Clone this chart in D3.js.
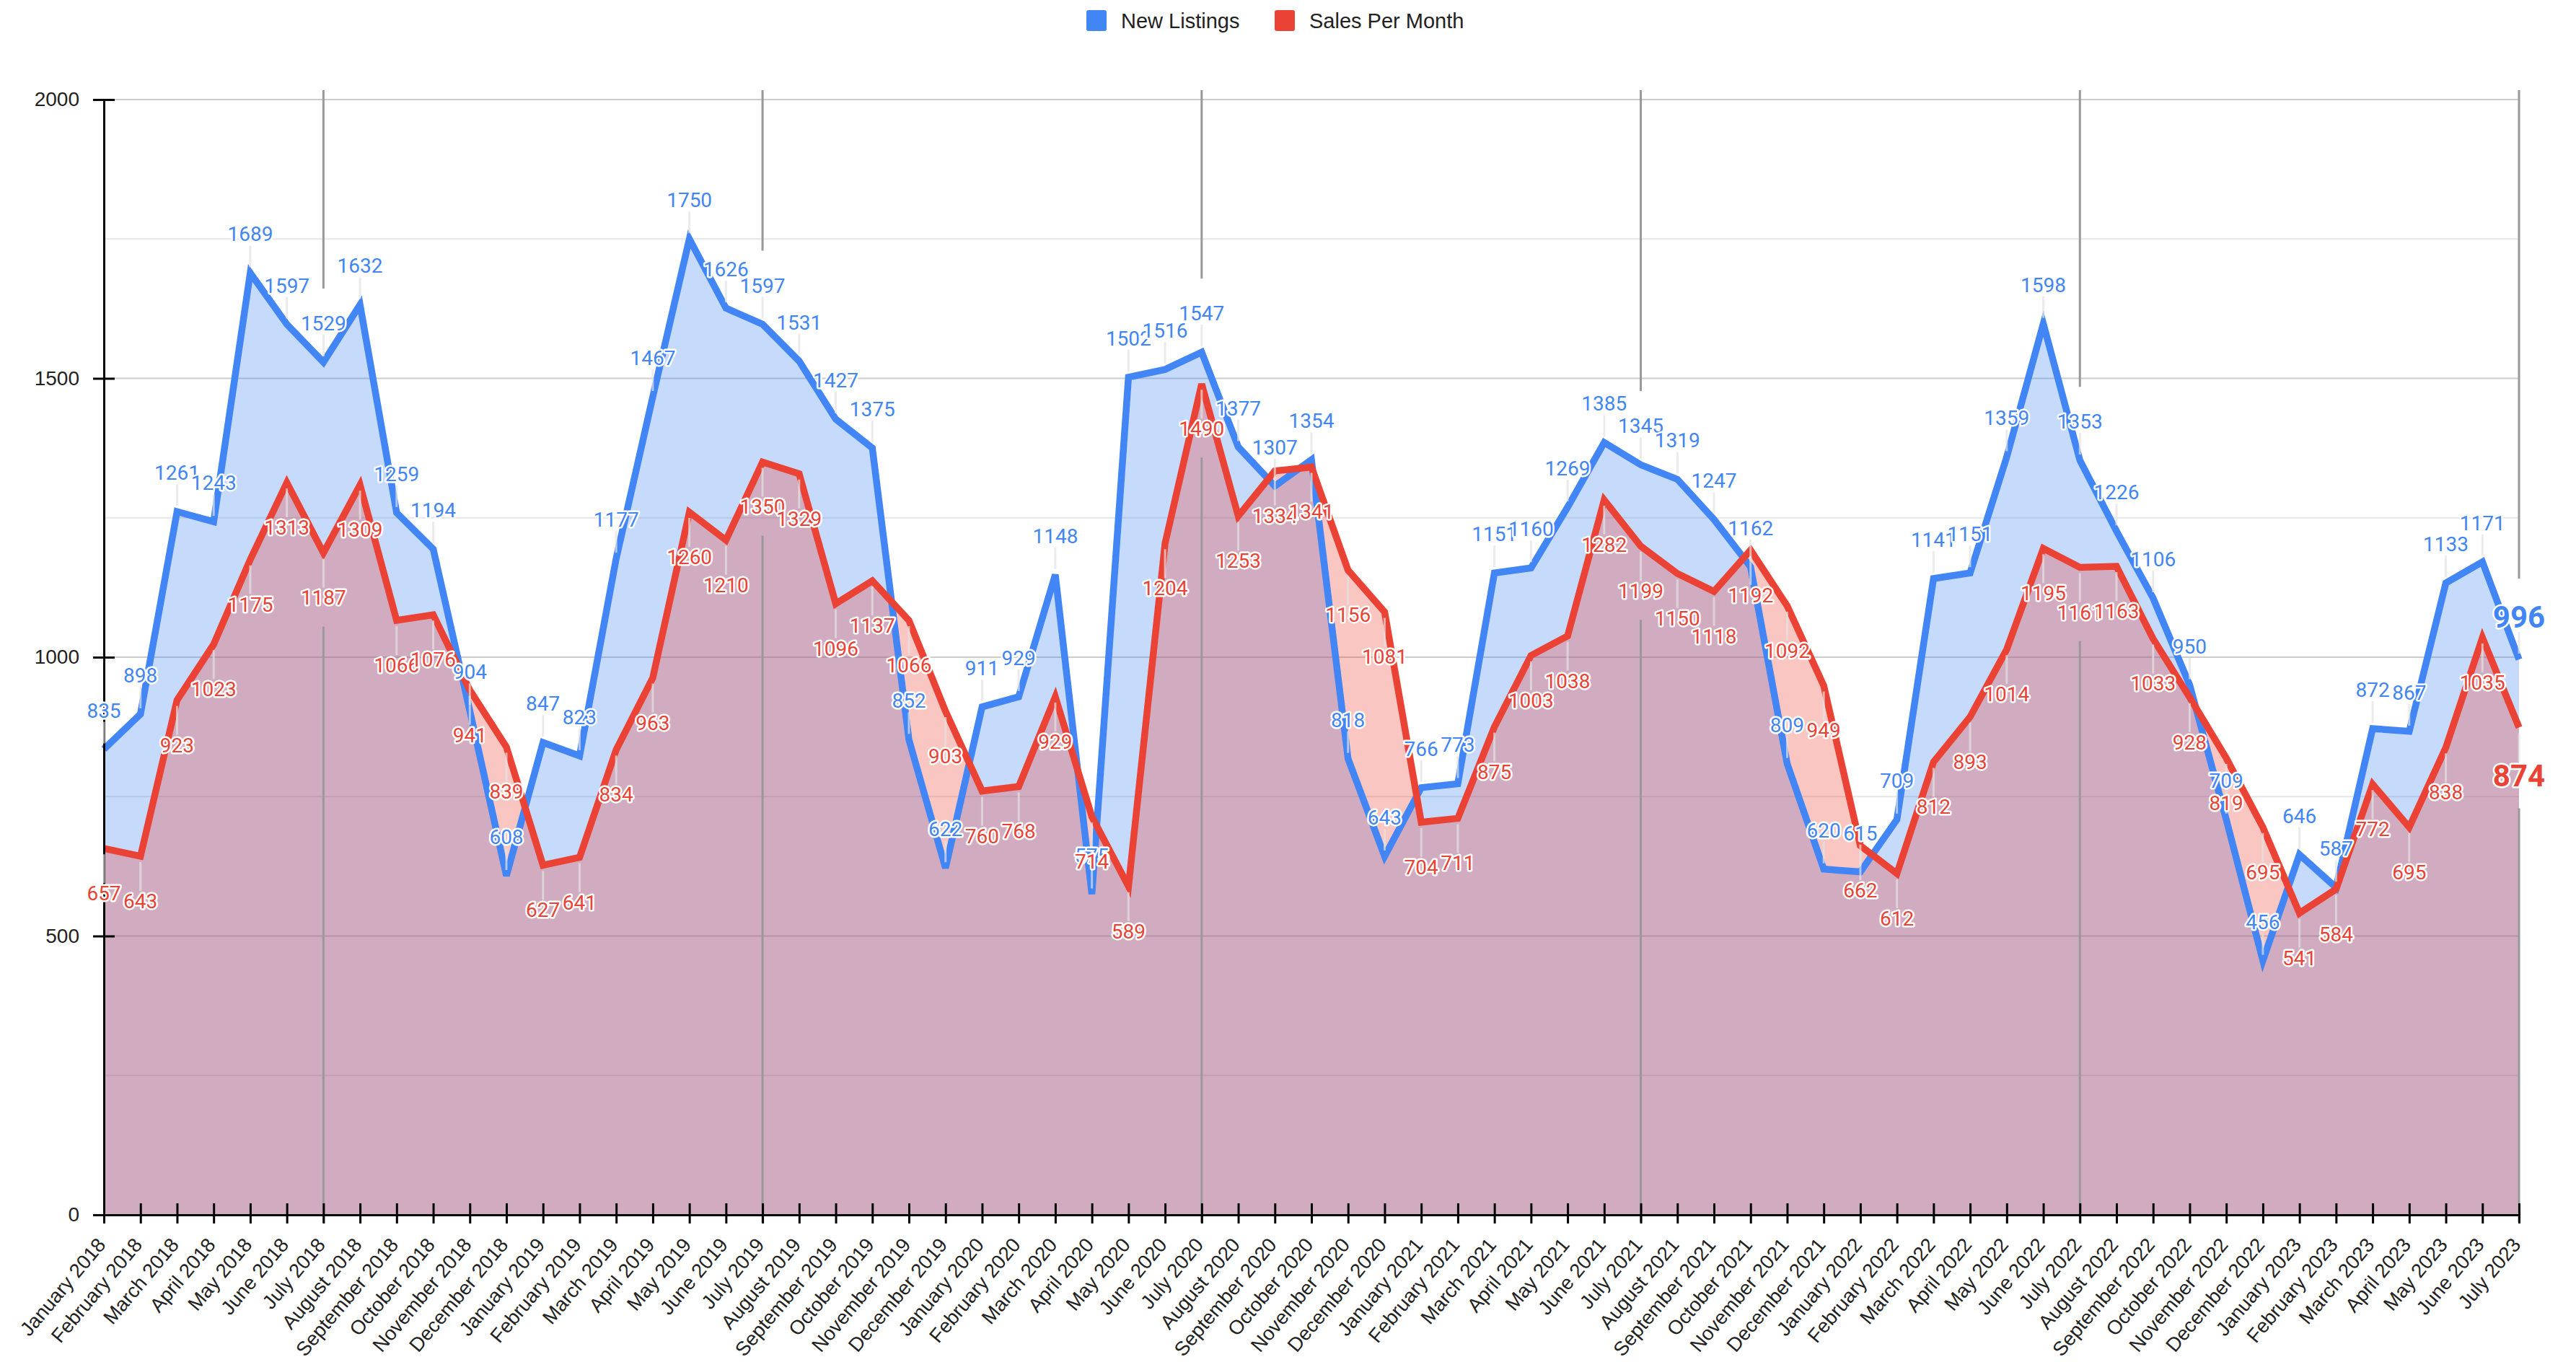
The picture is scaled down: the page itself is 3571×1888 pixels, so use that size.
<!DOCTYPE html>
<html>
<head>
<meta charset="utf-8">
<script src="https://cdnjs.cloudflare.com/ajax/libs/d3/7.8.5/d3.min.js"></script>
<style>
  body { margin: 0; background: #fff; }
  svg text { font-family: "Liberation Sans", Arial, sans-serif; }
  .lbl { font-family: Roboto, "Liberation Sans", sans-serif; }
</style>
</head>
<body>
<div id="chart"></div>
<script>
var months = [
  "January 2018", "February 2018", "March 2018", "April 2018", "May 2018", "June 2018",
  "July 2018", "August 2018", "September 2018", "October 2018", "November 2018", "December 2018",
  "January 2019", "February 2019", "March 2019", "April 2019", "May 2019", "June 2019",
  "July 2019", "August 2019", "September 2019", "October 2019", "November 2019", "December 2019",
  "January 2020", "February 2020", "March 2020", "April 2020", "May 2020", "June 2020",
  "July 2020", "August 2020", "September 2020", "October 2020", "November 2020", "December 2020",
  "January 2021", "February 2021", "March 2021", "April 2021", "May 2021", "June 2021",
  "July 2021", "August 2021", "September 2021", "October 2021", "November 2021", "December 2021",
  "January 2022", "February 2022", "March 2022", "April 2022", "May 2022", "June 2022",
  "July 2022", "August 2022", "September 2022", "October 2022", "November 2022", "December 2022",
  "January 2023", "February 2023", "March 2023", "April 2023", "May 2023", "June 2023",
  "July 2023"
];

var newListings = [
  835, 898, 1261, 1243, 1689, 1597, 1529, 1632, 1259, 1194, 904, 608,
  847, 823, 1177, 1467, 1750, 1626, 1597, 1531, 1427, 1375, 852, 622,
  911, 929, 1148, 575, 1502, 1516, 1547, 1377, 1307, 1354, 818, 643,
  766, 773, 1151, 1160, 1269, 1385, 1345, 1319, 1247, 1162, 809, 620,
  615, 709, 1141, 1151, 1359, 1598, 1353, 1226, 1106, 950, 709, 456,
  646, 587, 872, 867, 1133, 1171, 996
];

var salesPerMonth = [
  657, 643, 923, 1023, 1175, 1313, 1187, 1309, 1066, 1076, 941, 839,
  627, 641, 834, 963, 1260, 1210, 1350, 1329, 1096, 1137, 1066, 903,
  760, 768, 929, 714, 589, 1204, 1490, 1253, 1334, 1341, 1156, 1081,
  704, 711, 875, 1003, 1038, 1282, 1199, 1150, 1118, 1192, 1092, 949,
  662, 612, 812, 893, 1014, 1195, 1161, 1163, 1033, 928, 819, 695,
  541, 584, 772, 695, 838, 1035, 874
];

var yTicks = [0, 500, 1000, 1500, 2000];
var gridValues = [250, 500, 750, 1000, 1250, 1500, 1750, 2000];

var seriesNames = ["New Listings", "Sales Per Month"];
var seriesColors = ["#4285F4", "#EA4335"];

var width = 3571,
  height = 1888;

var svg = d3
  .select("#chart")
  .append("svg")
  .attr("width", width)
  .attr("height", height);

var x = d3.scalePoint().domain(months).range([144, 3492]);
var y = d3.scaleLinear().domain([0, 2000]).range([1684, 138]);

// gridlines (major every 500, minor in between)
svg
  .append("g")
  .selectAll("line")
  .data(gridValues)
  .enter()
  .append("line")
  .attr("x1", 144)
  .attr("x2", 3492)
  .attr("y1", function(d) { return y(d); })
  .attr("y2", function(d) { return y(d); })
  .attr("stroke", function(d) { return d % 500 === 0 ? "#cccccc" : "#e6e6e6"; })
  .attr("stroke-width", 2);

var series = [newListings, salesPerMonth];

var area = d3
  .area()
  .x(function(d, i) { return x(months[i]); })
  .y0(y(0))
  .y1(function(d) { return y(d); });

var line = d3
  .line()
  .x(function(d, i) { return x(months[i]); })
  .y(function(d) { return y(d); });

series.forEach(function(s, k) {
  svg
    .append("path")
    .datum(s)
    .attr("d", area)
    .attr("fill", seriesColors[k])
    .attr("fill-opacity", 0.3);
});

// grey markers at every July, broken around the labels
var julys = months
  .map(function(m, i) { return i; })
  .filter(function(i) { return months[i].indexOf("July") === 0; });

var last = months.length - 1;

julys.forEach(function(i) {
  var xx = x(months[i]);
  var big = i === last;
  var topEnd = y(newListings[i]) - 44 - (big ? 30 : 20) - 38;
  var botStart = y(salesPerMonth[i]) + (big ? 82 : 72) + 30;
  svg
    .append("line")
    .attr("x1", xx).attr("x2", xx)
    .attr("y1", 125).attr("y2", topEnd)
    .attr("stroke", "#999").attr("stroke-width", 3);
  svg
    .append("line")
    .attr("x1", xx).attr("x2", xx)
    .attr("y1", botStart).attr("y2", 1695)
    .attr("stroke", "#999").attr("stroke-width", 3);
});

series.forEach(function(s, k) {
  svg
    .append("path")
    .datum(s)
    .attr("d", line)
    .attr("fill", "none")
    .attr("stroke", seriesColors[k])
    .attr("stroke-width", 9.5);
});

// axes
var yAxis = d3
  .axisLeft(y)
  .tickValues(yTicks)
  .tickFormat(d3.format("d"))
  .tickSizeOuter(0)
  .tickSize(15);
var gy = svg.append("g").attr("transform", "translate(144,0)").call(yAxis);
gy.select(".domain").attr("stroke", "#000").attr("stroke-width", 3);
gy.selectAll(".tick line").attr("x1", 15).attr("x2", -15).attr("stroke", "#000").attr("stroke-width", 3);
gy.selectAll(".tick text")
  .attr("x", -34)
  .attr("font-size", 28)
  .attr("fill", "#222")
  .attr("font-family", "'Liberation Sans', Arial, sans-serif");

var xAxis = d3.axisBottom(x).tickSizeOuter(0).tickSize(12);
var gx = svg.append("g").attr("transform", "translate(0,1684)").call(xAxis);
gx.select(".domain").attr("stroke", "#000").attr("stroke-width", 3);
gx.selectAll(".tick line").attr("y1", -16).attr("y2", 12).attr("stroke", "#000").attr("stroke-width", 3);
gx.selectAll(".tick text")
  .attr("x", 0)
  .attr("y", 0)
  .attr("dy", "0.35em")
  .attr("transform", "translate(-4,36) rotate(-50)")
  .attr("text-anchor", "end")
  .attr("font-size", 27.5)
  .attr("fill", "#222")
  .attr("font-family", "'Liberation Sans', Arial, sans-serif");

// stems + value labels
series.forEach(function(s, k) {
  var above = k === 0;
  svg
    .append("g")
    .selectAll("line")
    .data(s)
    .enter()
    .append("line")
    .attr("x1", function(d, i) { return x(months[i]); })
    .attr("x2", function(d, i) { return x(months[i]); })
    .attr("y1", function(d) { return above ? y(d) - 8 : y(d) + 8; })
    .attr("y2", function(d) { return above ? y(d) - 38 : y(d) + 48; })
    .attr("stroke", "#e3e3e3")
    .attr("stroke-width", 3)
    .attr("stroke-opacity", 0.7);
});

series.forEach(function(s, k) {
  var above = k === 0;
  svg
    .append("g")
    .selectAll("text")
    .data(s)
    .enter()
    .append("text")
    .attr("class", "lbl")
    .attr("x", function(d, i) { return x(months[i]); })
    .attr("y", function(d, i) {
      if (above) return y(d) - 44;
      return y(d) + (i === last ? 82 : 72);
    })
    .attr("text-anchor", "middle")
    .attr("font-size", function(d, i) { return i === last ? 42 : 28; })
    .attr("font-weight", function(d, i) { return i === last ? "bold" : "normal"; })
    .attr("fill", seriesColors[k])
    .attr("stroke", "#fff")
    .attr("stroke-width", 5)
    .attr("stroke-linejoin", "round")
    .attr("paint-order", "stroke")
    .style("font-family", "Roboto, sans-serif")
    .text(function(d) { return d; });
});

// legend
var legendX = [1506, 1767];
var legend = svg
  .append("g")
  .selectAll("g")
  .data(seriesNames)
  .enter()
  .append("g")
  .attr("transform", function(d, i) { return "translate(" + legendX[i] + ",14)"; });

legend
  .append("rect")
  .attr("width", 28)
  .attr("height", 29)
  .attr("rx", 3)
  .attr("fill", function(d, i) { return seriesColors[i]; });

legend
  .append("text")
  .attr("x", 48)
  .attr("y", 25)
  .attr("font-size", 29)
  .attr("fill", "#222")
  .text(function(d) { return d; });
</script>
</body>
</html>
